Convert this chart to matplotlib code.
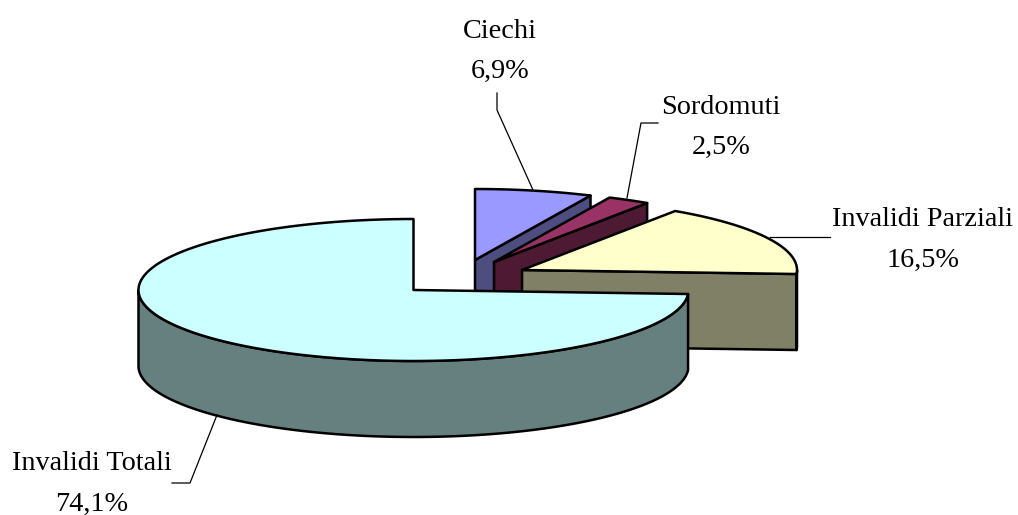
import numpy as np
import matplotlib
matplotlib.use("Agg")
import matplotlib.pyplot as plt
from matplotlib.patches import Polygon

categories = ["Ciechi", "Sordomuti", "Invalidi Parziali", "Invalidi Totali"]
values = [6.9, 2.5, 16.5, 74.1]
top_colors = ["#9999FF", "#993366", "#FFFFCC", "#CCFFFF"]
side_colors = ["#4D4D80", "#4D1933", "#808066", "#668080"]
centers = [(475, 260), (494, 262), (522, 270), (413.5, 290)]

RX, RY, DEPTH = 275, 71, 76
EDGE = dict(edgecolor="black", linewidth=1.8, joinstyle="round")

fig = plt.figure(figsize=(10.18, 5.15), dpi=100)
ax = fig.add_axes([0, 0, 1, 1])
ax.set_xlim(0, 1018)
ax.set_ylim(515, 0)
ax.axis("off")


def pt(c, deg, dz=0):
    a = np.radians(deg)
    return np.array([c[0] + RX * np.sin(a), c[1] - RY * np.cos(a) + dz])


def arc(c, a0, a1, dz=0):
    n = max(int(abs(a1 - a0)) * 2, 2)
    return np.array([pt(c, d, dz) for d in np.linspace(a0, a1, n)])


fractions = np.array(values) / sum(values) * 360
starts = np.concatenate([[0], np.cumsum(fractions)[:-1]])
ends = np.cumsum(fractions)

for c, a0, a1, tc, sc in zip(centers, starts, ends, top_colors, side_colors):
    # cut face at the wedge's clockwise end
    if a1 < 180:
        face = np.array([c, pt(c, a1), pt(c, a1, DEPTH), np.array(c) + [0, DEPTH]])
        ax.add_patch(Polygon(face, closed=True, facecolor=sc, **EDGE))
    # outer rim: visible on the front half only
    r0, r1 = max(a0, 90), min(a1, 270)
    if r1 > r0:
        rim = np.vstack([arc(c, r0, r1), arc(c, r1, r0, DEPTH)])
        ax.add_patch(Polygon(rim, closed=True, facecolor=sc, **EDGE))
    top = np.vstack([[c], arc(c, a0, a1)])
    ax.add_patch(Polygon(top, closed=True, facecolor=tc, **EDGE))

# leader lines
leaders = [
    ([497, 497, 533], [93, 110, 190]),
    ([658, 641, 627], [123, 123, 198]),
    ([830, 770], [237, 237]),
    ([172, 190, 217], [483, 483, 415]),
]
for xs, ys in leaders:
    ax.plot(xs, ys, color="black", lw=0.9)

label_pos = [(500, 31), (721, 107), (923, 220), (92, 464)]
FS = 20.3
for (x, y), name, v in zip(label_pos, categories, values):
    ax.text(x, y, name, ha="center", va="center", fontsize=FS,
            family="Liberation Serif", color="black")
    ax.text(x, y + 40, f"{v:.1f}%".replace(".", ","), ha="center", va="center",
            fontsize=FS, family="Liberation Serif", color="black")

fig.savefig("out.png", dpi=100, facecolor="white")
